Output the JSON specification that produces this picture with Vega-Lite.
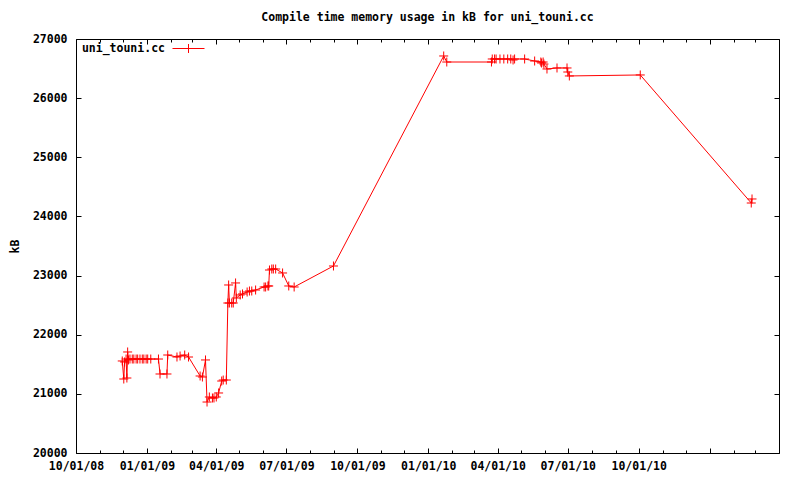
{
  "$schema": "https://vega.github.io/schema/vega-lite/v6.json",
  "width": 703,
  "height": 414,
  "autosize": {"type": "none"},
  "padding": {"left": 76, "top": 39, "right": 21, "bottom": 27},
  "background": "white",
  "config": {
    "view": {"stroke": "#000000", "strokeWidth": 1},
    "font": "DejaVu Sans Mono",
    "axis": {
      "labelFont": "DejaVu Sans Mono",
      "labelFontSize": 11.5,
      "labelFontWeight": "bold",
      "labelColor": "#000000",
      "titleFont": "DejaVu Sans Mono",
      "titleFontSize": 11.5,
      "titleFontWeight": "bold",
      "titleColor": "#000000",
      "tickColor": "#000000",
      "tickWidth": 1,
      "domain": false,
      "grid": false,
      "labelOverlap": false,
      "labelFlush": false,
      "labelBound": false
    }
  },
  "title": {
    "text": "Compile time memory usage in kB for uni_touni.cc",
    "font": "DejaVu Sans Mono",
    "fontSize": 11.5,
    "fontWeight": "bold",
    "color": "#000000",
    "anchor": "middle",
    "offset": 9
  },
  "data": {
    "values": [
      {"date": "2008-11-30", "kB": 21556},
      {"date": "2008-12-02", "kB": 21251},
      {"date": "2008-12-03", "kB": 21539},
      {"date": "2008-12-05", "kB": 21589},
      {"date": "2008-12-06", "kB": 21268},
      {"date": "2008-12-07", "kB": 21708},
      {"date": "2008-12-08", "kB": 21573},
      {"date": "2008-12-10", "kB": 21589},
      {"date": "2008-12-13", "kB": 21589},
      {"date": "2008-12-15", "kB": 21589},
      {"date": "2008-12-18", "kB": 21589},
      {"date": "2008-12-20", "kB": 21589},
      {"date": "2008-12-23", "kB": 21589},
      {"date": "2008-12-26", "kB": 21589},
      {"date": "2008-12-28", "kB": 21589},
      {"date": "2008-12-31", "kB": 21589},
      {"date": "2009-01-02", "kB": 21589},
      {"date": "2009-01-06", "kB": 21589},
      {"date": "2009-01-16", "kB": 21589},
      {"date": "2009-01-18", "kB": 21336},
      {"date": "2009-01-27", "kB": 21336},
      {"date": "2009-01-28", "kB": 21657},
      {"date": "2009-02-09", "kB": 21623},
      {"date": "2009-02-13", "kB": 21640},
      {"date": "2009-02-19", "kB": 21657},
      {"date": "2009-02-24", "kB": 21623},
      {"date": "2009-03-11", "kB": 21302},
      {"date": "2009-03-14", "kB": 21285},
      {"date": "2009-03-18", "kB": 21573},
      {"date": "2009-03-20", "kB": 20862},
      {"date": "2009-03-23", "kB": 20947},
      {"date": "2009-03-27", "kB": 20930},
      {"date": "2009-03-29", "kB": 20930},
      {"date": "2009-04-01", "kB": 20947},
      {"date": "2009-04-04", "kB": 21015},
      {"date": "2009-04-08", "kB": 21217},
      {"date": "2009-04-10", "kB": 21234},
      {"date": "2009-04-14", "kB": 21234},
      {"date": "2009-04-16", "kB": 22536},
      {"date": "2009-04-17", "kB": 22841},
      {"date": "2009-04-18", "kB": 22536},
      {"date": "2009-04-21", "kB": 22536},
      {"date": "2009-04-23", "kB": 22536},
      {"date": "2009-04-26", "kB": 22875},
      {"date": "2009-04-27", "kB": 22621},
      {"date": "2009-05-02", "kB": 22672},
      {"date": "2009-05-05", "kB": 22689},
      {"date": "2009-05-11", "kB": 22722},
      {"date": "2009-05-14", "kB": 22739},
      {"date": "2009-05-17", "kB": 22739},
      {"date": "2009-05-22", "kB": 22756},
      {"date": "2009-06-02", "kB": 22807},
      {"date": "2009-06-04", "kB": 22807},
      {"date": "2009-06-07", "kB": 22824},
      {"date": "2009-06-08", "kB": 22824},
      {"date": "2009-06-09", "kB": 23094},
      {"date": "2009-06-12", "kB": 23111},
      {"date": "2009-06-14", "kB": 23111},
      {"date": "2009-06-17", "kB": 23111},
      {"date": "2009-06-26", "kB": 23044},
      {"date": "2009-07-04", "kB": 22824},
      {"date": "2009-07-11", "kB": 22807},
      {"date": "2009-08-31", "kB": 23162},
      {"date": "2010-01-21", "kB": 26713},
      {"date": "2010-01-25", "kB": 26611},
      {"date": "2010-03-24", "kB": 26611},
      {"date": "2010-03-25", "kB": 26662},
      {"date": "2010-03-28", "kB": 26662},
      {"date": "2010-03-30", "kB": 26662},
      {"date": "2010-04-04", "kB": 26662},
      {"date": "2010-04-09", "kB": 26662},
      {"date": "2010-04-14", "kB": 26662},
      {"date": "2010-04-18", "kB": 26662},
      {"date": "2010-04-21", "kB": 26645},
      {"date": "2010-04-23", "kB": 26662},
      {"date": "2010-05-06", "kB": 26662},
      {"date": "2010-05-19", "kB": 26628},
      {"date": "2010-05-27", "kB": 26611},
      {"date": "2010-05-28", "kB": 26594},
      {"date": "2010-05-30", "kB": 26611},
      {"date": "2010-05-31", "kB": 26577},
      {"date": "2010-06-04", "kB": 26493},
      {"date": "2010-06-17", "kB": 26510},
      {"date": "2010-06-30", "kB": 26510},
      {"date": "2010-07-01", "kB": 26442},
      {"date": "2010-07-03", "kB": 26375},
      {"date": "2010-10-03", "kB": 26392},
      {"date": "2011-02-24", "kB": 24227},
      {"date": "2011-02-25", "kB": 24295}
    ]
  },
  "resolve": {"axis": {"x": "independent", "y": "independent"}},
  "layer": [
    {
      "mark": {"type": "line", "strokeWidth": 1, "interpolate": "linear"},
      "encoding": {
        "x": {
          "field": "date",
          "type": "temporal",
          "scale": {"domain": [{"year": 2008, "month": 10, "date": 1}, {"year": 2011, "month": 4, "date": 1}]},
          "axis": {
            "orient": "bottom",
            "title": null,
            "format": "%m/%d/%y",
            "values": [
              {"year": 2008, "month": 10, "date": 1}, {"year": 2008, "month": 11, "date": 1}, {"year": 2008, "month": 12, "date": 1},
              {"year": 2009, "month": 1, "date": 1}, {"year": 2009, "month": 2, "date": 1}, {"year": 2009, "month": 3, "date": 1},
              {"year": 2009, "month": 4, "date": 1}, {"year": 2009, "month": 5, "date": 1}, {"year": 2009, "month": 6, "date": 1},
              {"year": 2009, "month": 7, "date": 1}, {"year": 2009, "month": 8, "date": 1}, {"year": 2009, "month": 9, "date": 1},
              {"year": 2009, "month": 10, "date": 1}, {"year": 2009, "month": 11, "date": 1}, {"year": 2009, "month": 12, "date": 1},
              {"year": 2010, "month": 1, "date": 1}, {"year": 2010, "month": 2, "date": 1}, {"year": 2010, "month": 3, "date": 1},
              {"year": 2010, "month": 4, "date": 1}, {"year": 2010, "month": 5, "date": 1}, {"year": 2010, "month": 6, "date": 1},
              {"year": 2010, "month": 7, "date": 1}, {"year": 2010, "month": 8, "date": 1}, {"year": 2010, "month": 9, "date": 1},
              {"year": 2010, "month": 10, "date": 1}, {"year": 2010, "month": 11, "date": 1}, {"year": 2010, "month": 12, "date": 1},
              {"year": 2011, "month": 1, "date": 1}, {"year": 2011, "month": 2, "date": 1}, {"year": 2011, "month": 3, "date": 1},
              {"year": 2011, "month": 4, "date": 1}
            ],
            "labelExpr": "(month(datum.value) % 3 === 0 && datum.value < datetime(2010, 9, 5)) ? datum.label : ''",
            "tickSize": {"condition": {"test": "month(datum.value) % 3 === 0", "value": -5}, "value": -3},
            "labelPadding": 12
          }
        },
        "y": {
          "field": "kB",
          "type": "quantitative",
          "scale": {"domain": [20000, 27000], "nice": false, "zero": false},
          "axis": {
            "orient": "left",
            "title": "kB",
            "values": [20000, 21000, 22000, 23000, 24000, 25000, 26000, 27000],
            "format": "d",
            "tickSize": -5,
            "labelPadding": 14,
            "titlePadding": 12
          }
        },
        "color": {
          "datum": "uni_touni.cc",
          "type": "nominal",
          "scale": {"range": ["#ff0000"]},
          "legend": {
            "title": null,
            "orient": "none",
            "legendX": 96,
            "legendY": -7,
            "padding": 0,
            "symbolType": "M-1,0H1M0,-0.28V0.28",
            "symbolSize": 1024,
            "symbolStrokeWidth": 1,
            "symbolStrokeColor": "#ff0000",
            "symbolFillColor": "transparent",
            "labelAlign": "right",
            "labelOffset": -40,
            "labelFont": "DejaVu Sans Mono",
            "labelFontSize": 11.5,
            "labelFontWeight": "bold",
            "labelColor": "#000000"
          }
        }
      }
    },
    {
      "mark": {"type": "point", "shape": "M-1,0H1M0,-1V1", "size": 81, "filled": false, "strokeWidth": 1, "opacity": 1},
      "encoding": {
        "x": {
          "field": "date",
          "type": "temporal",
          "axis": {
            "orient": "top",
            "title": null,
            "labels": false,
            "values": [
              {"year": 2008, "month": 10, "date": 1}, {"year": 2008, "month": 11, "date": 1}, {"year": 2008, "month": 12, "date": 1},
              {"year": 2009, "month": 1, "date": 1}, {"year": 2009, "month": 2, "date": 1}, {"year": 2009, "month": 3, "date": 1},
              {"year": 2009, "month": 4, "date": 1}, {"year": 2009, "month": 5, "date": 1}, {"year": 2009, "month": 6, "date": 1},
              {"year": 2009, "month": 7, "date": 1}, {"year": 2009, "month": 8, "date": 1}, {"year": 2009, "month": 9, "date": 1},
              {"year": 2009, "month": 10, "date": 1}, {"year": 2009, "month": 11, "date": 1}, {"year": 2009, "month": 12, "date": 1},
              {"year": 2010, "month": 1, "date": 1}, {"year": 2010, "month": 2, "date": 1}, {"year": 2010, "month": 3, "date": 1},
              {"year": 2010, "month": 4, "date": 1}, {"year": 2010, "month": 5, "date": 1}, {"year": 2010, "month": 6, "date": 1},
              {"year": 2010, "month": 7, "date": 1}, {"year": 2010, "month": 8, "date": 1}, {"year": 2010, "month": 9, "date": 1},
              {"year": 2010, "month": 10, "date": 1}, {"year": 2010, "month": 11, "date": 1}, {"year": 2010, "month": 12, "date": 1},
              {"year": 2011, "month": 1, "date": 1}, {"year": 2011, "month": 2, "date": 1}, {"year": 2011, "month": 3, "date": 1},
              {"year": 2011, "month": 4, "date": 1}
            ],
            "tickSize": {"condition": {"test": "month(datum.value) % 3 === 0", "value": -5}, "value": -3}
          }
        },
        "y": {
          "field": "kB",
          "type": "quantitative",
          "axis": {
            "orient": "right",
            "title": null,
            "labels": false,
            "values": [20000, 21000, 22000, 23000, 24000, 25000, 26000, 27000],
            "tickSize": -5
          }
        },
        "color": {
          "datum": "uni_touni.cc",
          "type": "nominal",
          "legend": {
            "title": null,
            "orient": "none",
            "legendX": 96,
            "legendY": -7,
            "padding": 0,
            "symbolType": "M-1,0H1M0,-0.28V0.28",
            "symbolSize": 1024,
            "symbolStrokeWidth": 1,
            "symbolStrokeColor": "#ff0000",
            "symbolFillColor": "transparent",
            "labelAlign": "right",
            "labelOffset": -40,
            "labelFont": "DejaVu Sans Mono",
            "labelFontSize": 11.5,
            "labelFontWeight": "bold",
            "labelColor": "#000000"
          }
        }
      }
    }
  ]
}
